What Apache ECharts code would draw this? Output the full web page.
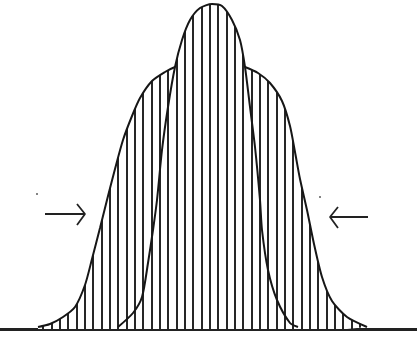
<!DOCTYPE html>
<html>
<head>
<meta charset="utf-8">
<script src="https://cdn.jsdelivr.net/npm/echarts@6/dist/echarts.min.js"></script>
<style>
  html, body { margin: 0; padding: 0; background: #fff; }
  #chart { width: 417px; height: 338px; }
</style>
</head>
<body>
<div id="chart"></div>
<script>
// wide (flat) curve: x position and height above the baseline
const wideX = [38, 50, 63, 75, 85, 92, 100, 108, 115, 123, 132, 140, 152, 165, 175, 190, 210, 230, 245, 258, 270, 282, 290, 295, 300, 307, 314, 322, 332, 347, 367];
const wideY = [2, 5, 12, 22, 44, 70, 101, 133, 160, 189, 213, 231, 248, 257, 262, 267, 269, 267, 262, 256, 246, 228, 203, 177, 150, 119, 85, 52, 28, 12, 2];

// narrow (tall) curve
const narrowX = [118, 133, 142, 148, 153, 157, 162, 168, 175, 182, 190, 200, 212, 222, 232, 240, 245, 250, 255, 260, 262, 268, 277, 290, 298];
const narrowY = [2, 16, 32, 66, 99, 129, 179, 222, 262, 289, 309, 321, 325, 323, 309, 289, 262, 222, 182, 129, 99, 59, 29, 6, 2];

// arrows: shaft start, tip, chevron top, tip, chevron bottom
const leftArrow = [[45, 115], [85, 115], [77, 125], [85, 115], [77, 104]];
const rightArrow = [[368, 112], [330, 112], [338, 122], [330, 112], [338, 101]];
const specks = [[37, 135], [320, 132]];

const zip = (xs, ys) => xs.map((x, i) => [x, ys[i]]);

// vertical hatching used as area fill
const hatch = document.createElement('canvas');
hatch.width = 25;
hatch.height = 4;
const hctx = hatch.getContext('2d');
hctx.fillStyle = '#fff';
hctx.fillRect(0, 0, 25, 4);
hctx.fillStyle = '#262626';
[1, 9, 17].forEach(x => hctx.fillRect(x, 0, 2, 4));

const chart = echarts.init(document.getElementById('chart'));

const curve = (data, z) => ({
  type: 'line',
  data: data,
  smooth: 0.25,
  symbol: 'none',
  z: z,
  lineStyle: { color: '#161616', width: 2 },
  areaStyle: { color: { image: hatch, repeat: 'repeat' }, opacity: 1 },
  animation: false
});

const arrow = data => ({
  type: 'line',
  data: data,
  symbol: 'none',
  z: 5,
  lineStyle: { color: '#222', width: 1.8 },
  animation: false
});

chart.setOption({
  backgroundColor: '#fff',
  grid: { left: 0, right: 0, top: 0, bottom: 9 },
  xAxis: {
    type: 'value',
    min: 0,
    max: 417,
    axisLine: { show: true, onZero: false, lineStyle: { color: '#222', width: 3 } },
    axisTick: { show: false },
    axisLabel: { show: false },
    splitLine: { show: false }
  },
  yAxis: {
    type: 'value',
    min: 0,
    max: 329,
    show: false
  },
  series: [
    curve(zip(wideX, wideY), 2),
    curve(zip(narrowX, narrowY), 3),
    arrow(leftArrow),
    arrow(rightArrow),
    {
      type: 'scatter',
      data: specks,
      symbolSize: 2,
      itemStyle: { color: '#333' },
      z: 5,
      animation: false
    }
  ]
});
</script>
</body>
</html>
